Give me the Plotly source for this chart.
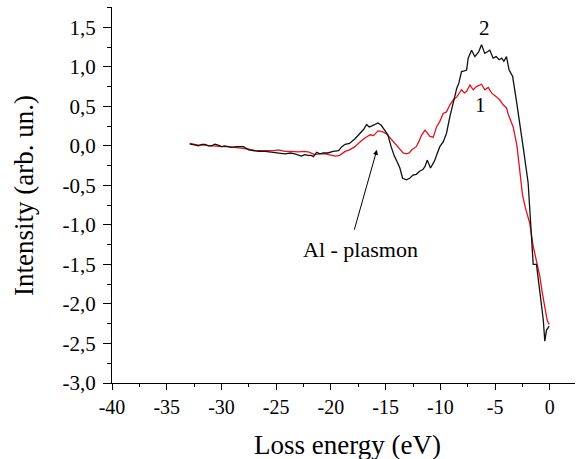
import plotly.graph_objects as go

# Series 2 (black)
x2 = [-32.9,-32.5,-32.1,-31.8,-31.5,-31.2,-30.9,-30.6,-30.3,-30.0,-29.7,-29.4,-29.1,-28.6,-28.0,-27.5,-27.0,-26.6,-26.0,-25.4,-24.8,-24.2,-23.7,-23.3,-22.7,-22.4,-22.1,-21.8,-21.6,-21.3,-21.0,-20.7,-20.3,-19.8,-19.3,-19.0,-18.7,-18.3,-17.8,-17.35,-17.0,-16.74,-16.5,-16.3,-16.0,-15.7,-15.4,-15.2,-14.8,-14.5,-14.2,-13.95,-13.7,-13.45,-13.1,-12.8,-12.5,-12.2,-11.9,-11.6,-11.4,-11.2,-10.9,-10.7,-10.5,-10.3,-10.05,-9.74,-9.44,-9.13,-8.83,-8.5,-8.3,-8.07,-7.8,-7.6,-7.46,-7.15,-6.85,-6.5,-6.24,-5.94,-5.7,-5.48,-5.18,-4.9,-4.63,-4.4,-4.2,-3.96,-3.72,-3.4,-3.04,-2.74,-2.4,-1.98,-1.74,-1.52,-1.22,-0.9,-0.6,-0.46,-0.3,-0.06]
y2 = [0.025,0.01,0.0,0.02,0.02,0.0,0.0,0.02,0.01,-0.01,0.0,-0.01,-0.02,-0.01,-0.01,-0.05,-0.06,-0.07,-0.07,-0.08,-0.09,-0.10,-0.09,-0.10,-0.13,-0.11,-0.12,-0.12,-0.135,-0.08,-0.1,-0.09,-0.09,-0.07,-0.06,-0.01,0.02,0.03,0.09,0.16,0.21,0.27,0.24,0.25,0.27,0.29,0.26,0.22,0.14,-0.01,-0.13,-0.2,-0.28,-0.41,-0.43,-0.41,-0.37,-0.36,-0.32,-0.30,-0.26,-0.18,-0.28,-0.23,-0.18,-0.1,-0.01,0.05,0.16,0.37,0.54,0.73,0.80,0.94,0.95,0.96,1.11,1.21,1.13,1.19,1.28,1.17,1.19,1.21,1.11,1.13,1.09,1.11,1.07,1.13,0.96,0.88,0.56,0.29,-0.05,-0.47,-1.02,-1.50,-1.50,-1.85,-2.2,-2.47,-2.33,-2.28]

# Series 1 (red)
x1 = [-32.9,-32.5,-32.1,-31.6,-31.0,-30.5,-30.0,-29.4,-28.8,-28.2,-27.5,-26.9,-26.3,-25.7,-25.2,-24.8,-24.2,-23.6,-23.0,-22.4,-22.0,-21.5,-21.0,-20.5,-20.0,-19.6,-19.2,-19.0,-18.7,-18.3,-17.8,-17.35,-16.9,-16.4,-16.1,-15.7,-15.3,-14.9,-14.6,-14.3,-14.0,-13.7,-13.4,-13.1,-12.85,-12.6,-12.2,-11.95,-11.7,-11.4,-11.2,-10.96,-10.65,-10.35,-10.05,-9.74,-9.44,-9.13,-8.83,-8.5,-8.07,-7.8,-7.6,-7.3,-7.0,-6.7,-6.24,-5.94,-5.63,-5.33,-4.87,-4.57,-4.26,-3.96,-3.8,-3.6,-3.35,-3.0,-2.75,-2.5,-2.2,-1.83,-1.52,-1.2,-0.91,-0.7,-0.46,-0.25,-0.06]
y1 = [0.03,0.02,0.01,0.01,0.0,0.0,-0.01,-0.01,-0.02,-0.03,-0.04,-0.06,-0.06,-0.065,-0.06,-0.05,-0.07,-0.07,-0.075,-0.07,-0.08,-0.11,-0.1,-0.1,-0.12,-0.13,-0.12,-0.1,-0.07,-0.05,-0.01,0.05,0.1,0.14,0.13,0.19,0.18,0.15,0.10,0.05,0.0,-0.05,-0.09,-0.1,-0.09,-0.05,-0.01,0.06,0.14,0.20,0.17,0.12,0.11,0.24,0.31,0.41,0.43,0.52,0.58,0.62,0.71,0.67,0.69,0.77,0.71,0.75,0.78,0.71,0.74,0.67,0.62,0.58,0.52,0.48,0.40,0.33,0.24,0.0,-0.35,-0.62,-0.80,-0.98,-1.27,-1.48,-1.65,-1.85,-2.07,-2.2,-2.26]

xtick_vals = [-40, -35, -30, -25, -20, -15, -10, -5, 0]
xtick_text = ["-40", "-35", "-30", "-25", "-20", "-15", "-10", "-5", "0"]
ytick_vals = [-3.0, -2.5, -2.0, -1.5, -1.0, -0.5, 0.0, 0.5, 1.0, 1.5]
ytick_text = ["-3,0", "-2,5", "-2,0", "-1,5", "-1,0", "-0,5", "0,0", "0,5", "1,0", "1,5"]

FONT = "Liberation Serif, Times New Roman, serif"

fig = go.Figure()
fig.add_trace(go.Scatter(x=x1, y=y1, mode="lines", line=dict(color="#e8101a", width=1.3), showlegend=False))
fig.add_trace(go.Scatter(x=x2, y=y2, mode="lines", line=dict(color="#111111", width=1.3), showlegend=False))

fig.update_layout(
    width=578, height=459,
    margin=dict(l=112, r=3, t=7, b=76, autoexpand=False),
    paper_bgcolor="white", plot_bgcolor="white",
    font=dict(family=FONT, color="black", size=20),
    showlegend=False,
)
fig.update_xaxes(
    range=[-40, 2.3], showgrid=False, zeroline=False, automargin=False,
    showline=True, linecolor="black", linewidth=1,
    ticks="outside", ticklen=6, tickwidth=1, tickcolor="black",
    tickmode="array", tickvals=xtick_vals, ticktext=xtick_text,
    tickfont=dict(family=FONT, size=20, color="black"),
    minor=dict(ticks="outside", ticklen=3, tickwidth=1, tickcolor="black", dtick=2.5, tick0=0),
)
fig.update_yaxes(
    range=[-3.0, 1.757], showgrid=False, zeroline=False, automargin=False,
    showline=True, linecolor="black", linewidth=1,
    ticks="outside", ticklen=8, tickwidth=1, tickcolor="black",
    tickmode="array", tickvals=ytick_vals, ticktext=ytick_text,
    tickfont=dict(family=FONT, size=21, color="black"),
    ticklabelstandoff=3,
    minor=dict(ticks="outside", ticklen=4, tickwidth=1, tickcolor="black", dtick=0.25, tick0=0),
)

# Axis titles
fig.add_annotation(x=0.5097, y=-0.165, xref="paper", yref="paper", text="Loss energy (eV)",
                   showarrow=False, xanchor="center", yanchor="middle",
                   font=dict(family=FONT, size=27, color="black"))
fig.add_annotation(x=-0.189, y=0.4987, xref="paper", yref="paper", text="Intensity (arb. un.)",
                   showarrow=False, textangle=-90, xanchor="center", yanchor="middle",
                   font=dict(family=FONT, size=27, color="black"))

fig.add_annotation(x=-15.8, y=-0.05, ax=-17.9, ay=-1.08, axref="x", ayref="y",
                   xref="x", yref="y", text="", showarrow=True,
                   arrowhead=2, arrowsize=1, arrowwidth=1, arrowcolor="black")
fig.add_annotation(x=-17.26, y=-1.315, xref="x", yref="y", text="Al - plasmon",
                   showarrow=False, font=dict(family=FONT, size=22, color="black"))
fig.add_annotation(x=-5.94, y=1.49, xref="x", yref="y", text="2",
                   showarrow=False, font=dict(family=FONT, size=21, color="black"))
fig.add_annotation(x=-6.3, y=0.52, xref="x", yref="y", text="1",
                   showarrow=False, font=dict(family=FONT, size=21, color="black"))

fig.write_html("out.html", config={"displayModeBar": False},
               post_script="document.body.style.margin='0';document.body.style.padding='0';")
